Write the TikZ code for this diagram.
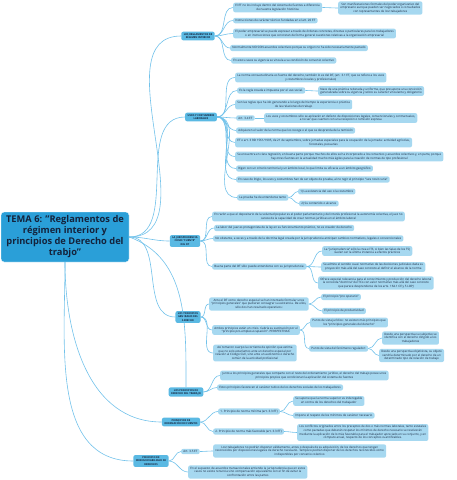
\documentclass[tikz,border=0pt]{standalone}
\usepackage{fontspec}
\setmainfont{Open Sans}
\usepackage{xcolor}
\usepackage{tikz}

\definecolor{mainblue}{HTML}{2A9FD8}
\definecolor{catblue}{HTML}{5AB9E3}
\definecolor{leafblue}{HTML}{A6D8F0}
\definecolor{linkblue}{HTML}{72C2EA}
\definecolor{navy}{HTML}{14233C}

\tikzset{
    mainbox/.style={rectangle, rounded corners=3pt, fill=mainblue, draw=white, line width=0.4pt,
        text=navy, align=center, minimum width=128pt, minimum height=50pt, inner sep=1pt,
        font=\bfseries\fontsize{9.3}{11}\selectfont},
    catbox/.style={rectangle, rounded corners=2pt, fill=catblue, text=navy, align=center,
        inner xsep=2.5pt, inner ysep=1.8pt, font=\bfseries\fontsize{2.55}{3.2}\selectfont},
    leafbox/.style={rectangle, rounded corners=2pt, fill=leafblue, text=navy, align=center,
        anchor=west, inner xsep=2.2pt, inner ysep=1.6pt, font=\fontsize{2.95}{3.55}\selectfont},
    link/.style={draw=linkblue, line width=0.6pt},
}

\begin{document}
\begin{tikzpicture}[x=1pt, y=-1pt]
    \useasboundingbox (0,0) rectangle (457,480);

    % Main topic
    \node[mainbox] (main) at (65,237) {TEMA 6: "Reglamentos de\\régimen interior y\\principios de Derecho del\\trabjo"};

    % Topics
    \node[catbox] (regl) at (198,36) {LOS REGLAMENTOS DE\\RÉGIMEN INTERIOR};
    \node[catbox] (usos) at (201,117) {USOS Y COSTUMBRES\\LABORALES};
    \node[catbox] (juris) at (185,241) {LA JURISPRUDENCIA\\COMO "FUENTE"\\DEL DT};
    \node[catbox] (pgen) at (188,317) {LOS PRINCIPIOS\\GENERALES DEL\\DERECHO};
    \node[catbox] (pdt) at (186,392) {LOS PRINCIPIOS DE\\DERECHO DEL TRABAJO};
    \node[catbox] (pord) at (181,422) {PRINCIPIOS DE\\ORDENACIÓN DE FUENTES};
    \node[catbox] (pirr) at (151,461) {PRINCIPIO DE\\IRRENUNCIABILIDAD DE\\DERECHOS};

    \draw[link] (main.east) to[out=0,in=180] (regl.west);
    \draw[link] (main.east) to[out=0,in=180] (usos.west);
    \draw[link] (main.east) to[out=0,in=180] (juris.west);
    \draw[link] (main.east) to[out=0,in=180] (pgen.west);
    \draw[link] (main.east) to[out=-20,in=90] (pdt.north);
    \draw[link] (main.south) to[out=-90,in=180] (pord.west);
    \draw[link] (main.south) to[out=-90,in=180] (pirr.west);

    % Reglamentos de regimen interior
    \node[leafbox] (regl1) at (233,7.5) {El ET no los incluye dentro del sistema de fuentes a diferencia\\de nuestra legislación histórica};
    \node[leafbox] (regl1a) at (338,8) {Son manifestaciones formales del poder organizativo del\\empresario aunque pueden ser negociados o consultados\\con representantes de los trabajadores};
    \node[leafbox] (regl2) at (233,20.5) {Instrucciones de carácter técnico fundadas en el art. 20 ET};
    \node[leafbox] (regl3) at (233,33.5) {El poder empresarial se puede expresar a través de órdenes concretas, directas o particulares para los trabajadores\\o en instrucciones que concretan de forma general cuestiones relativas a la organización empresarial};
    \node[leafbox] (regl4) at (230,48) {Normalmente NO SON acuerdos colectivos porque su origen no ha sido necesariamente pactado};
    \node[leafbox] (regl5) at (231,60.5) {En estos casos su vigencia se vincula a su condición de convenio colectivo};

    \foreach \n in {regl1,regl2,regl3,regl4,regl5}
        \draw[link] (regl.east) to[out=0,in=180] (\n.west);
    \draw[link] (regl1.east) to[out=0,in=180] (regl1a.west);

    % Usos y costumbres
    \node[leafbox] (usos1) at (235,77.5) {La norma consuetudinaria es fuente del derecho, también lo es del DT, (art. 3.1 ET, que se refiere a los usos\\y costumbres locales y profesionales)};
    \node[leafbox] (usos2) at (237,90.5) {Es la regla creada e impuesta por el uso social.};
    \node[leafbox] (usos2a) at (318,91) {Nace de una práctica reiterada y uniforme, que presupone una convicción\\generalizada sobre su vigencia y sobre su carácter vinculante y obligatorio};
    \node[leafbox] (usos3) at (235,104.5) {Son las reglas que ha ido generando a lo largo del tiempo la experiencia o práctica\\de las relaciones de trabajo};
    \node[leafbox] (usos4) at (236,118) {Art. 3.4 ET};
    \node[leafbox] (usos4a) at (264,118) {Los usos y costumbres sólo se aplicarán en defecto de disposiciones legales, convencionales y contractuales,\\a no ser que cuenten con una recepción o remisión expresa};
    \node[leafbox] (usos5) at (236,130.5) {Adquieren el valor de la norma que los recoge o el que se desprenda de la remisión};
    \node[leafbox] (usos6) at (235,142.5) {ET o art. 3 RD 1561/1995, de 21 de septiembre, sobre jornadas especiales para la ocupación de la jornada: actividad agrícolas,\\forestales, pecuarias};
    \node[leafbox] (usos7) at (235,156.5) {Se encuentra en clara regresión, en buena parte porque muchos de ellos se ha incorporado a los convenios y acuerdos colectivos y, en parte, porque\\hay otras fuentes en la actualidad mucho más ágiles para la creación de normas de tipo profesional};
    \node[leafbox] (usos8) at (236,168.5) {Rigen con un criterio territorial y un ámbito local, lo que limita su eficacia a un ámbito geográfico};
    \node[leafbox] (usos9) at (236,179.5) {En caso de litigio, los usos y costumbres han de ser objeto de prueba, al no regir el principio "iura novit curia"};
    \node[leafbox] (usos10) at (237,197.5) {La prueba ha de entenderse tanto};
    \node[leafbox] (usos10a) at (298,191.5) {1) La existencia del uso o la costumbre};
    \node[leafbox] (usos10b) at (299,203.5) {2) Su contenido o alcance};

    \foreach \n in {usos1,usos2,usos3,usos4,usos5,usos6,usos7,usos8,usos9,usos10}
        \draw[link] (usos.east) to[out=0,in=180] (\n.west);
    \draw[link] (usos2.east) to[out=0,in=180] (usos2a.west);
    \draw[link] (usos4.east) to[out=0,in=180] (usos4a.west);
    \draw[link] (usos10.east) to[out=0,in=180] (usos10a.west);
    \draw[link] (usos10.east) to[out=0,in=180] (usos10b.west);

    % Jurisprudencia
    \node[leafbox] (juris1) at (212,216.5) {En razón a que el depositario de la voluntad popular es el poder parlamentario y del interés profesional la autonomía colectiva, el juez no\\carece de la capacidad de crear normas jurídicas en el ámbito laboral};
    \node[leafbox] (juris2) at (214,228) {La labor del juez es protagonista de la ley en su funcionamiento práctico, no es creador de derecho};
    \node[leafbox] (juris3) at (213,238.5) {No obstante, a veces y a través de la doctrina legal creada por la jurisprudencia anticipan cambios normativos, legales o convencionales};
    \node[leafbox] (juris4) at (212,266.5) {Buena parte del DT sólo puede entenderse con su jurisprudencia:};
    \node[leafbox] (juris4a) at (322,251) {La "jurisprudencia" sólo la crea el TS, si bien las Salas de los TSJ\\suelen ser la última instancia a efectos prácticos};
    \node[leafbox] (juris4b) at (321,267) {Se admite el sentido cuasi normativo de las decisiones judiciales dada su\\proyección más allá del caso concreto al definir el alcance de la norma};
    \node[leafbox] (juris4c) at (318,283) {Ofrece especial relevancia para el conocimiento y producción del derecho laboral\\la conocida "doctrina" del TCo con valor normativo más allá del caso concreto\\que parece desprenderse de los arts. 164.1 CE y 5 LOPJ};

    \foreach \n in {juris1,juris2,juris3,juris4}
        \draw[link] (juris.east) to[out=0,in=180] (\n.west);
    \foreach \n in {juris4a,juris4b,juris4c}
        \draw[link] (juris4.east) to[out=0,in=180] (\n.west);

    % Principios generales del derecho
    \node[leafbox] (pgen1) at (209,304) {Ante el DT como derecho especial se han intentado formular unos\\"principios generales" que pudieran consagrar su existencia. De ellos,\\sólo dos han resultado operativos:};
    \node[leafbox] (pgen1a) at (321,297) {El principio "pro operario"};
    \node[leafbox] (pgen1b) at (322,311) {El principio de productividad};
    \node[leafbox] (pgen2) at (212,330) {Ambos principios están en crisis. Cabría su sustitución por el\\"principio pro-empleo-ocupación". PERSPECTIVAS:};
    \node[leafbox] (pgen2a) at (310,322.5) {Punto de vista jurídico: no existen más principios que\\los "principios generales del derecho"};
    \node[leafbox] (pgen2b) at (309,348.5) {Punto de vista del fenómeno regulador:};
    \node[leafbox] (pgen2b1) at (382,338) {Desde una perspectiva su subjetivo se\\identifica con el derecho dirigido a los\\trabajadores};
    \node[leafbox] (pgen2b2) at (379,355.5) {Desde una perspectiva objetivista, su objeto\\vendría determinado por el derecho de un\\determinado tipo de relación de trabajo};
    \node[leafbox] (pgen3) at (213,353) {Así tomaron cuerpo la corriente de opinión que estima\\que no solo estaríamos ante un derecho especial por\\relación al Código Civil, sino ante un autónomo o derecho\\común de la actividad profesional};

    \foreach \n in {pgen1,pgen2,pgen3}
        \draw[link] (pgen.east) to[out=0,in=180] (\n.west);
    \draw[link] (pgen1.east) to[out=0,in=180] (pgen1a.west);
    \draw[link] (pgen1.east) to[out=0,in=180] (pgen1b.west);
    \draw[link] (pgen2.east) to[out=0,in=180] (pgen2a.west);
    \draw[link] (pgen2.east) to[out=0,in=180] (pgen2b.west);
    \draw[link] (pgen2b.east) to[out=0,in=180] (pgen2b1.west);
    \draw[link] (pgen2b.east) to[out=0,in=180] (pgen2b2.west);

    % Principios de derecho del trabajo
    \node[leafbox] (pdt1) at (220,375.5) {Junto a los principios generales que comparte con el resto del ordenamiento jurídico, el derecho del trabajo posee unos\\principios propios que condicionan la aplicación del sistema de fuentes};
    \node[leafbox] (pdt2) at (217,387.5) {Estos principios favorecen el carácter tuitivo de los derechos sociales de los trabajadores};

    \draw[link] (pdt.east) to[out=0,in=180] (pdt1.west);
    \draw[link] (pdt.east) to[out=0,in=180] (pdt2.west);

    % Principios de ordenacion de fuentes
    \node[leafbox] (pord1) at (218,411.5) {1. Principio de norma mínima (art. 3.3 ET)};
    \node[leafbox] (pord1a) at (293,401) {Se supone que la norma superior es inderogable\\en contra de los derechos del trabajador};
    \node[leafbox] (pord1b) at (293,415.5) {Impone el respeto de los mínimos de carácter necesario};
    \node[leafbox] (pord2) at (213,431.5) {2. Principio de norma más favorable (art. 3.3 ET)};
    \node[leafbox] (pord2a) at (297,432.5) {Los conflictos originados entre los preceptos de dos o más normas laborales, tanto estatales\\como pactadas que deberán respetar los mínimos de derecho necesario se resolverán\\mediante la aplicación de lo más favorable para el trabajador apreciado en su conjunto, y en\\cómputo anual, respecto de los conceptos cuantificables.};

    \draw[link] (pord.east) to[out=0,in=180] (pord1.west);
    \draw[link] (pord.east) to[out=0,in=180] (pord2.west);
    \draw[link] (pord1.east) to[out=0,in=180] (pord1a.west);
    \draw[link] (pord1.east) to[out=0,in=180] (pord1b.west);
    \draw[link] (pord2.east) to[out=0,in=180] (pord2a.west);

    % Irrenunciabilidad de derechos
    \node[leafbox] (pirr1) at (181,451.5) {Art. 3.5 ET};
    \node[leafbox] (pirr1a) at (213,451) {Los trabajadores no podrán disponer válidamente, antes o después de su adquisición, de los derechos que tengan\\reconocidos por disposiciones legales de derecho necesario. Tampoco podrán disponer de los derechos reconocidos como\\indisponibles por convenio colectivo};
    \node[leafbox] (pirr2) at (188,472) {En el supuesto de acuerdos transaccionales entiende la jurisprudencia que en estos\\casos no existe renuncia sino compensación equivalente con el fin de evitar la\\confrontación entre las partes};

    \draw[link] (pirr.east) to[out=0,in=180] (pirr1.west);
    \draw[link] (pirr.east) to[out=0,in=180] (pirr2.west);
    \draw[link] (pirr1.east) to[out=0,in=180] (pirr1a.west);
\end{tikzpicture}
\end{document}
